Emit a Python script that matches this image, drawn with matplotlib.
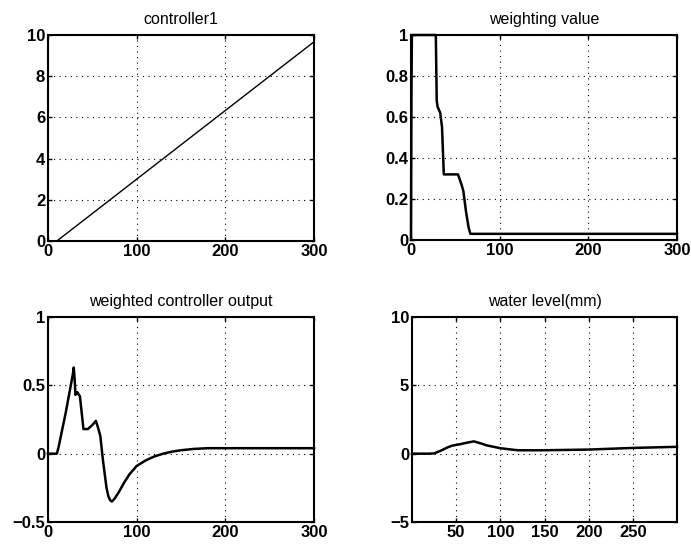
import matplotlib
matplotlib.use("Agg")
import matplotlib.pyplot as plt
import numpy as np

plt.rcParams['font.family'] = ['Liberation Sans', 'DejaVu Sans']

# controller1
c1_x = [10, 300]
c1_y = [0.0, 9.67]

# weighting value
w_x = [0, 0.5, 1, 28, 29, 30, 33, 35, 37, 40, 50, 53, 57, 59, 62, 65, 67, 70, 100, 300]
w_y = [0.0, 0.7, 1.0, 1.0, 0.68, 0.65, 0.62, 0.55, 0.32, 0.32, 0.32, 0.32, 0.27, 0.24, 0.14, 0.06, 0.03, 0.03, 0.03, 0.03]

# weighted controller output
o_x = [0, 10, 12, 20, 28, 29, 30, 31, 33, 34, 36, 38, 40, 45, 50, 54, 56, 59, 62, 64, 66, 68, 70, 72, 75, 80, 86, 92, 100, 110, 120, 130, 140, 150, 165, 180, 200, 250, 300]
o_y = [0.0, 0.0, 0.05, 0.3, 0.58, 0.63, 0.55, 0.43, 0.45, 0.44, 0.42, 0.3, 0.18, 0.18, 0.21, 0.24, 0.2, 0.13, -0.05, -0.15, -0.25, -0.31, -0.34, -0.35, -0.33, -0.28, -0.21, -0.15, -0.09, -0.05, -0.02, 0.0, 0.015, 0.025, 0.035, 0.04, 0.04, 0.04, 0.04]

# water level
l_x = [0, 20, 25, 32, 40, 45, 55, 62, 70, 78, 85, 100, 110, 120, 150, 200, 250, 300]
l_y = [0.0, 0.0, 0.02, 0.2, 0.45, 0.58, 0.7, 0.8, 0.9, 0.75, 0.6, 0.4, 0.32, 0.25, 0.25, 0.3, 0.42, 0.5]

fig = plt.figure(figsize=(6.91, 5.48), dpi=100)
W, H = 691.0, 548.0

def mk(left, top, right, bottom):
    return fig.add_axes([left / W, 1 - bottom / H, (right - left) / W, (bottom - top) / H])

axes = [mk(48, 35, 314, 241), mk(411, 35, 677, 240), mk(48, 317, 314, 522), mk(412, 317, 677, 522)]

specs = [
    (c1_x, c1_y, 'controller1', (0, 300), (0, 10), [0, 100, 200, 300], [0, 2, 4, 6, 8, 10], ['0', '2', '4', '6', '8', '10'], 1.0),
    (w_x, w_y, 'weighting value', (0, 300), (0, 1), [0, 100, 200, 300], [0, 0.2, 0.4, 0.6, 0.8, 1], ['0', '0.2', '0.4', '0.6', '0.8', '1'], 1.8),
    (o_x, o_y, 'weighted controller output', (0, 300), (-0.5, 1), [0, 100, 200, 300], [-0.5, 0, 0.5, 1], ['\u22120.5', '0', '0.5', '1'], 1.8),
    (l_x, l_y, 'water level(mm)', (0, 300), (-5, 10), [50, 100, 150, 200, 250], [-5, 0, 5, 10], ['\u22125', '0', '5', '10'], 1.8),
]

for ax, (x, y, title, xl, yl, xt, yt, ytl, lw) in zip(axes, specs):
    ax.plot(x, y, color='black', linewidth=lw, clip_on=False)
    ax.set_xlim(*xl)
    ax.set_ylim(*yl)
    ax.set_xticks(xt)
    ax.set_xticklabels([str(v) for v in xt], fontsize=12, fontweight='bold')
    ax.set_yticks(yt)
    ax.set_yticklabels(ytl, fontsize=12, fontweight='bold')
    ax.set_title(title, fontsize=11.5, pad=8)
    ax.grid(True, linestyle=(0, (1, 4)), color='black', linewidth=0.8)
    ax.tick_params(direction='in', length=3, width=1, top=True, right=True, pad=2, colors='black')
    for s in ax.spines.values():
        s.set_linewidth(1.5)
        s.set_color('black')

fig.savefig('out.png', dpi=100)
